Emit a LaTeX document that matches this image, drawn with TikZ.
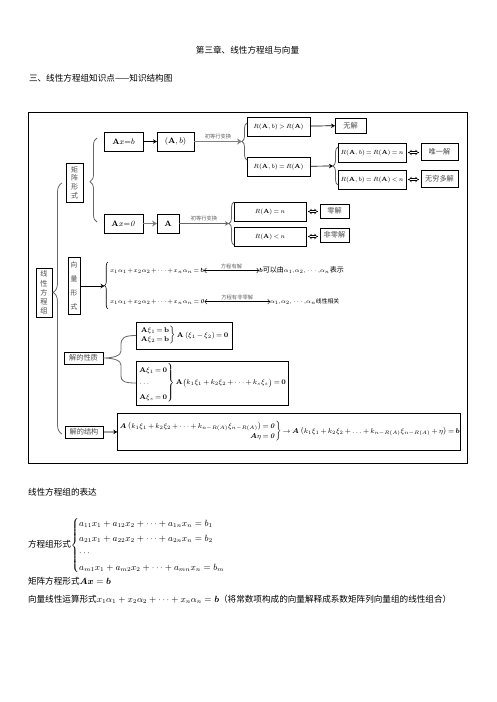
\documentclass[tikz,border=0pt]{standalone}
\usepackage{amsmath}
\usepackage{bm}
\usepackage[no-math]{fontspec}
\setmainfont{Noto Sans CJK SC}
\usetikzlibrary{arrows.meta,decorations.pathreplacing,calc}
\newcommand{\bz}{\boldsymbol{\mathit{0}}}
\newcommand{\tightmath}{\medmuskip=2.5mu\relax\thickmuskip=3mu\relax}
\newcommand{\vtight}{\medmuskip=1.5mu\relax\thickmuskip=2.5mu\relax}
\begin{document}
\begin{tikzpicture}[x=1pt,y=-1pt,
  every node/.style={inner sep=0pt,outer sep=0pt},
  mbox/.style={draw,line width=0.7pt,inner sep=1pt,font=\fontsize{8.5}{9}\selectfont},
  rbox/.style={draw,line width=0.7pt,inner sep=1pt,font=\fontsize{6}{7}\selectfont},
  cbox/.style={draw,line width=0.7pt,inner sep=1pt,font=\fontsize{7.2}{8}\selectfont,text=black!70},
  vbox/.style={draw,line width=0.7pt,inner sep=1pt,align=center,text=black!70},
  ar/.style={line width=0.7pt,-{Stealth[length=4pt,width=4.5pt]}},
  gar/.style={draw=black!50,line width=1.6pt,-{Stealth[length=5pt,width=6pt]}},
  dar/.style={double,double distance=1.3pt,line width=0.55pt,{Implies}-{Implies},shorten <=2pt,shorten >=2pt},
  lar/.style={line width=0.45pt,{To[length=2.5pt]}-{To[length=2.5pt]}},
  gbr/.style={draw=black!60,line width=0.8pt},
  bdec/.style={gbr,decorate,decoration={brace,amplitude=#1}},
  lbl/.style={font=\fontsize{5.3}{6}\selectfont,text=black!60},
  btxt/.style={anchor=west,font=\fontsize{8.6}{10}\selectfont}
]
\fill[white] (0,0) rectangle (496,702);
\useasboundingbox (0,0) rectangle (496,702);

\node[btxt,anchor=center] (title) at (247.5,50) {第三章、线性方程组与向量};
\node[btxt] (sec) at (29,78) {三、线性方程组知识点——知识结构图};
\draw[line width=0.8pt] (28,112) rectangle (467,463);

% matrix form
\node[mbox,minimum width=39,minimum height=19] (axb) at (123.5,141.5) {$\mathbf{A}x{=}b$};
\node[mbox,minimum width=37,minimum height=19] (ab) at (175.5,141.5) {$(\mathbf{A},b)$};
\node[rbox,minimum width=63,minimum height=19] (r1) at (278.5,126.5) {$\tightmath R(\mathbf{A},b)> R(\mathbf{A})$};
\node[cbox,minimum width=31,minimum height=15] (wj) at (350.5,125.5) {无解};
\node[rbox,minimum width=63,minimum height=19] (r2) at (278.5,166.5) {$\tightmath R(\mathbf{A},b)= R(\mathbf{A})$};
\node[rbox,minimum width=68,minimum height=19] (r3) at (372,152.5) {$\tightmath R(\mathbf{A},b)=R(\mathbf{A})=n$};
\node[cbox,minimum width=37,minimum height=17] (wy) at (439.5,151.5) {唯一解};
\node[rbox,minimum width=68,minimum height=19] (r4) at (372,179.5) {$\tightmath R(\mathbf{A},b)=R(\mathbf{A})<n$};
\node[cbox,minimum width=37,minimum height=17] (wq) at (439.5,178.5) {无穷多解};

\node[mbox,minimum width=39,minimum height=19] (ax0) at (123.5,223.5) {$\mathbf{A}x{=}\mathit{0}$};
\node[mbox,minimum width=22,minimum height=19] (aa) at (168,223.5) {$\mathbf{A}$};
\node[rbox,minimum width=72,minimum height=19] (r5) at (270,211.5) {$\tightmath R(\mathbf{A})=n$};
\node[cbox,minimum width=29,minimum height=14] (lj) at (334.5,211) {零解};
\node[rbox,minimum width=72,minimum height=19] (r6) at (270,236.5) {$\tightmath R(\mathbf{A})<n$};
\node[cbox,minimum width=29,minimum height=14] (fl) at (334.5,235) {非零解};

\draw[ar] (axb) -- (ab);
\draw[bdec=5pt] (247,160) -- (247,123);
\coordinate (t1) at (242,141.5);
\draw[gar] (ab) -- (t1) node[midway,above=2.5pt,lbl]{初等行变换};
\draw[ar] (r1) -- (wj);
\draw[bdec=5pt] (338,185) -- (338,147);
\coordinate (t2) at (333,166);
\draw[ar] (r2) -- (t2);
\draw[dar] (r3.east) -- (r3.east -| wy.west);
\draw[dar] (r4.east) -- (r4.east -| wq.west);
\draw[gar] (ax0) -- (aa);
\draw[bdec=5pt] (234,245) -- (234,202);
\coordinate (t3) at (229,223.5);
\draw[ar,draw=black!60,line width=0.8pt] (aa) -- (t3) node[midway,above=2.5pt,lbl]{初等行变换};
\draw[dar] (r5.east) -- (r5.east -| lj.west);
\draw[dar] (r6.east) -- (r6.east -| fl.west);

% left column
\node[vbox,font=\fontsize{7}{8.6}\selectfont,minimum width=17,minimum height=39] (jz) at (74.5,182.5) {矩\\阵\\形\\式};
\draw[bdec=7pt,decoration={aspect=0.48}] (97,222) -- (97,138);
\node[vbox,font=\fontsize{7.2}{9.2}\selectfont,minimum width=16,minimum height=49] (xx) at (44,292.5) {线\\性\\方\\程\\组};
\draw[bdec=9pt,decoration={aspect=0.564}] (62,434) -- (62,183);
\node[vbox,font=\fontsize{6.8}{14}\selectfont,minimum width=12,minimum height=57] (xl) at (74,286) {向\\量\\形\\式};

% vector form
\node[anchor=base west,font=\fontsize{6.3}{8}\selectfont] (e1) at (110,272) {$\vtight x_1\alpha_1+x_2\alpha_2+\cdots+x_n\alpha_n=\bm{b}$};
\node[anchor=base west,font=\fontsize{6.3}{8}\selectfont] (e2) at (110,303) {$\vtight x_1\alpha_1+x_2\alpha_2+\cdots+x_n\alpha_n=\bz$};
\draw[line width=0.6pt,decorate,decoration={brace,amplitude=3.5pt}] (108,309) -- (108,262);
\coordinate (t4) at (104.5,286);
\draw[ar] (xl.east) -- (t4);
\node[anchor=base west,font=\fontsize{7}{9}\selectfont] (s1) at (259,272) {{\fontsize{6.4}{8}\selectfont$\bm{b}$}可以由{\fontsize{6.4}{8}\selectfont$\alpha_1{,}\alpha_2{,}\cdots{,}\alpha_n$}表示};
\node[anchor=base west,font=\fontsize{6.3}{8}\selectfont] (s2) at (270,303) {$\alpha_1{,}\alpha_2{,}\cdots{,}\alpha_n${\fontsize{5.8}{7}\selectfont 线性相关}};
\draw[lar] (e1.east) -- (e1.east -| s1.west) node[midway,above=1.5pt,lbl]{方程有解};
\draw[lar] (e2.east) -- (e2.east -| s2.west) node[midway,above=1.5pt,lbl]{方程有非零解};

% properties
\node[vbox,font=\fontsize{7.2}{8}\selectfont,minimum width=39,minimum height=12] (xz) at (83.5,358) {解的性质};
\node[draw,line width=0.7pt,inner sep=1pt,anchor=west,minimum width=96,minimum height=27,font=\fontsize{7.4}{8.5}\selectfont] (q1) at (136,335.5) {\renewcommand\arraystretch{1.0}$\tightmath\left.\begin{array}{@{}l@{}}\mathbf{A}\xi_1=\mathbf{b}\\ \mathbf{A}\xi_2=\mathbf{b}\end{array}\right\}\mathbf{A}\left(\xi_1-\xi_2\right)=\mathbf{0}$};
\node[draw,line width=0.7pt,inner sep=1pt,anchor=west,minimum width=152,minimum height=44,font=\fontsize{7.2}{8.5}\selectfont] (q2) at (136,383) {\renewcommand\arraystretch{1.6}$\tightmath\left.\begin{array}{@{}l@{}}\mathbf{A}\xi_1=\mathbf{0}\\ \cdots\\ \mathbf{A}\xi_s=\mathbf{0}\end{array}\right\}\mathbf{A}\bigl(k_1\xi_1+k_2\xi_2+\cdots+k_s\xi_s\bigr)=\mathbf{0}$};
\draw[gbr] (q1.west) .. controls (124,335.5) and (121,338) .. (121,345) -- (121,351) .. controls (121,355.5) and (114,358) .. (xz.east) .. controls (114,358) and (121,360.5) .. (121,365) -- (121,376) .. controls (121,381) and (124,383) .. (q2.west);

% structure
\node[vbox,font=\fontsize{7.2}{8}\selectfont,minimum width=38,minimum height=12] (jg) at (84,432) {解的结构};
\node[draw,line width=0.7pt,inner sep=1pt,minimum width=336,minimum height=37,font=\fontsize{6.6}{8}\selectfont] (big) at (289,431.5) {\renewcommand\arraystretch{1.3}$\tightmath\left.\begin{array}{@{}r@{}}\bm{A}\left(k_1\xi_1+k_2\xi_2+\cdots+k_{n-R(A)}\xi_{n-R(A)}\right)=\bz\\ \bm{A}\eta=\bz\end{array}\right\}\rightarrow\bm{A}\left(k_1\xi_1+k_2\xi_2+\ldots+k_{n-R(A)}\xi_{n-R(A)}+\eta\right)=\bm{b}$};
\draw[ar] (jg) -- (big);

% bottom text
\node[btxt] (bt1) at (28,492) {线性方程组的表达};
\node[btxt] (bt2) at (28,545.5) {方程组形式{\fontsize{8.8}{10.5}\selectfont\renewcommand\arraystretch{1.4}$\left\{\begin{array}{@{}l@{}}a_{11}x_1+a_{12}x_2+\cdots+a_{1n}x_n=b_1\\ a_{21}x_1+a_{22}x_2+\cdots+a_{2n}x_n=b_2\\ \cdots\\ a_{m1}x_1+a_{m2}x_2+\cdots+a_{mn}x_n=b_m\end{array}\right.$}};
\node[btxt] (bt3) at (28,581) {矩阵方程形式$\bm{Ax}=\bm{b}$};
\node[btxt] (bt4) at (28,599) {向量线性运算形式$x_1\alpha_1+x_2\alpha_2+\cdots+x_n\alpha_n=\bm{b}$（将常数项构成的向量解释成系数矩阵列向量组的线性组合）};
\end{tikzpicture}
\end{document}
